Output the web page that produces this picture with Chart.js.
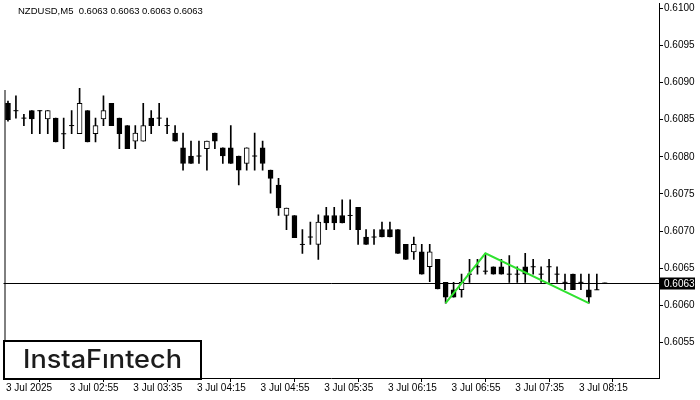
<!DOCTYPE html>
<html><head><meta charset="utf-8">
<script src="https://cdn.jsdelivr.net/npm/chart.js@4/dist/chart.umd.min.js"></script>
<style>html,body{margin:0;padding:0;background:#fff}#wrap{width:700px;height:400px;position:relative}</style>
</head><body><div id="wrap"><canvas id="c" width="700" height="400"></canvas></div>
<script>
const symbol = "NZDUSD";
const timeframe = "M5";
const opens  = [0.60872,0.60862,0.60852,0.60862,0.60862,0.60851,0.60852,0.60831,0.60842,0.60831,
                0.60862,0.60831,0.60851,0.60872,0.60852,0.60842,0.60821,0.60821,0.60852,0.60852,
                0.60842,0.60832,0.60812,0.60801,0.60801,0.60811,0.60832,0.60812,0.60812,0.60801,
                0.60791,0.60801,0.60812,0.60782,0.60762,0.60721,0.60721,0.60682,0.60692,0.60682,
                0.60721,0.60721,0.60721,0.60721,0.60732,0.60692,0.60692,0.60702,0.60702,0.60702,
                0.60682,0.60672,0.60672,0.60652,0.60662,0.60631,0.60621,0.60621,0.60642,0.60652,
                0.60646,0.60652,0.60652,0.60642,0.60642,0.60652,0.60652,0.60642,0.60652,0.60642,
                0.60631,0.60642,0.60631,0.60621,0.60621,0.60630];
const highs  = [0.60875,0.60882,0.60857,0.60862,0.60862,0.60862,0.60852,0.60852,0.60862,0.60892,
                0.60862,0.60852,0.60882,0.60872,0.60852,0.60842,0.60842,0.60872,0.60862,0.60872,
                0.60852,0.60842,0.60832,0.60821,0.60821,0.60821,0.60832,0.60812,0.60842,0.60801,
                0.60812,0.60832,0.60821,0.60782,0.60771,0.60731,0.60721,0.60702,0.60712,0.60722,
                0.60732,0.60732,0.60742,0.60742,0.60732,0.60702,0.60702,0.60712,0.60712,0.60702,
                0.60682,0.60692,0.60682,0.60682,0.60662,0.60631,0.60631,0.60642,0.60662,0.60662,
                0.60670,0.60652,0.60662,0.60667,0.60652,0.60670,0.60662,0.60652,0.60662,0.60652,
                0.60642,0.60642,0.60642,0.60642,0.60642,0.60630];
const lows   = [0.60848,0.60852,0.60842,0.60831,0.60831,0.60831,0.60820,0.60811,0.60831,0.60831,
                0.60820,0.60820,0.60842,0.60842,0.60811,0.60811,0.60811,0.60821,0.60831,0.60842,
                0.60831,0.60821,0.60782,0.60791,0.60791,0.60782,0.60811,0.60791,0.60791,0.60762,
                0.60782,0.60782,0.60782,0.60751,0.60721,0.60702,0.60691,0.60670,0.60682,0.60662,
                0.60702,0.60702,0.60711,0.60702,0.60682,0.60682,0.60682,0.60692,0.60692,0.60670,
                0.60662,0.60662,0.60642,0.60632,0.60622,0.60603,0.60611,0.60611,0.60631,0.60642,
                0.60642,0.60642,0.60642,0.60631,0.60631,0.60631,0.60642,0.60631,0.60631,0.60631,
                0.60621,0.60621,0.60621,0.60603,0.60621,0.60630];
const closes = [0.60850,0.60862,0.60852,0.60851,0.60862,0.60862,0.60820,0.60831,0.60842,0.60872,
                0.60820,0.60842,0.60862,0.60842,0.60831,0.60811,0.60832,0.60842,0.60842,0.60852,
                0.60842,0.60821,0.60791,0.60791,0.60801,0.60821,0.60821,0.60801,0.60791,0.60782,
                0.60812,0.60801,0.60791,0.60771,0.60731,0.60731,0.60691,0.60682,0.60692,0.60712,
                0.60711,0.60711,0.60711,0.60721,0.60702,0.60682,0.60692,0.60692,0.60692,0.60670,
                0.60662,0.60682,0.60642,0.60672,0.60622,0.60611,0.60611,0.60631,0.60642,0.60652,
                0.60646,0.60642,0.60642,0.60642,0.60642,0.60642,0.60652,0.60642,0.60652,0.60642,
                0.60631,0.60621,0.60631,0.60611,0.60621,0.60630];
const timeLabels = ["3 Jul 2025","3 Jul 02:55","3 Jul 03:35","3 Jul 04:15","3 Jul 04:55",
                    "3 Jul 05:35","3 Jul 06:15","3 Jul 06:55","3 Jul 07:35","3 Jul 08:15"];
const timeLabelIndex = [0,8,16,24,32,40,48,56,64,72];
const priceTicks = [0.6055,0.6060,0.6065,0.6070,0.6075,0.6080,0.6085,0.6090,0.6095,0.6100];
const patternIndex = [55,60,73];
const patternPrice = [0.60603,0.60670,0.60603];
const logoText = "InstaF\u0131ntech";

const idx = opens.map((_, i) => i);
const wickData = idx.map(i => ({x: i, y: [lows[i], highs[i]]}));
const bodyData = idx.map(i => opens[i] === closes[i] ? {x: i, y: null} :
  {x: i, y: [Math.min(opens[i], closes[i]), Math.max(opens[i], closes[i])]});
const dojiData = idx.filter(i => opens[i] === closes[i]).map(i => ({x: i, y: opens[i]}));
const patternData = patternIndex.map((v, k) => ({x: v, y: patternPrice[k]}));

const FONT = "'Liberation Sans', Arial, sans-serif";
Chart.defaults.font.family = FONT;
Chart.defaults.font.size = 10;
Chart.defaults.color = '#000';

const deco = {
  id: 'deco',
  beforeDatasetsDraw(chart) {
    const {ctx, chartArea: a, scales: {y}} = chart;
    const last = closes[closes.length - 1];
    const py = Math.floor(y.getPixelForValue(last)) + 0.5;
    ctx.save();
    ctx.strokeStyle = '#000'; ctx.lineWidth = 1;
    ctx.beginPath(); ctx.moveTo(a.left, py); ctx.lineTo(a.right, py); ctx.stroke();
    ctx.beginPath(); ctx.moveTo(a.left + 1.5, 90); ctx.lineTo(a.left + 1.5, a.bottom); ctx.stroke();
    ctx.restore();
  },
  afterDraw(chart) {
    const {ctx, chartArea: a, scales: {y}} = chart;
    const n = closes.length - 1;
    const last = closes[n];
    const py = Math.floor(y.getPixelForValue(last)) + 0.5;
    ctx.save();
    ctx.fillStyle = '#000';
    ctx.fillRect(a.right + 1, py - 6, 35, 12);
    ctx.fillStyle = '#fff';
    ctx.font = '10px ' + FONT;
    ctx.textBaseline = 'middle'; ctx.textAlign = 'left';
    ctx.fillText(last.toFixed(4), a.right + 5, py + 0.5);
    ctx.fillStyle = '#000';
    const t = symbol + ',' + timeframe + '  ' + [opens[n], highs[n], lows[n], closes[n]].map(v => v.toFixed(4)).join(' ');
    ctx.font = '9.5px ' + FONT;
    ctx.fillText(t, 18, 11);
    ctx.fillStyle = '#fff';
    ctx.fillRect(4, 341, 197, 38);
    ctx.strokeStyle = '#000'; ctx.lineWidth = 2;
    ctx.strokeRect(4, 341, 197, 38);
    ctx.fillStyle = '#1c1c1c';
    ctx.font = '500 25px Inter, sans-serif';
    ctx.textBaseline = 'alphabetic';
    const w = ctx.measureText(logoText).width;
    ctx.translate(23, 368);
    ctx.scale(159 / w, 1);
    ctx.fillText(logoText, 0, 0);
    ctx.restore();
  }
};

new Chart(document.getElementById('c'), {
  type: 'bar',
  data: {
    datasets: [
      {type: 'line', data: patternData, borderColor: '#2fe22f', borderWidth: 2, pointRadius: 0, tension: 0},
      {type: 'bar', data: bodyData, barThickness: 5, grouped: false, borderSkipped: false,
       backgroundColor: c => (closes[c.dataIndex] >= opens[c.dataIndex] ? '#fff' : '#000'),
       borderColor: '#000', borderWidth: 1},
      {type: 'line', data: dojiData, showLine: false, pointStyle: 'line', pointRadius: 2.5,
       pointBorderColor: '#000', pointBorderWidth: 1, pointHoverRadius: 2.5},
      {type: 'bar', data: wickData, barThickness: 1, grouped: false, borderSkipped: false,
       backgroundColor: '#000', borderWidth: 0}
    ]
  },
  options: {
    responsive: false, animation: false, devicePixelRatio: 1,
    layout: {padding: 0},
    plugins: {legend: {display: false}, tooltip: {enabled: false}},
    events: [],
    scales: {
      x: {
        type: 'linear', offset: false, min: -0.5625, max: 81.8125,
        grid: {drawOnChartArea: false, drawTicks: true, tickLength: 4, color: '#000'},
        border: {display: true, color: '#000', width: 1},
        afterBuildTicks: s => { s.ticks = timeLabelIndex.map(v => ({value: v})); },
        afterFit: s => { s.height = 22; s.paddingLeft = 0; s.paddingRight = 0; },
        ticks: {autoSkip: false, maxRotation: 0, align: 'start', padding: 0, labelOffset: -2,
                color: '#000', font: {size: 10},
                callback: v => timeLabels[timeLabelIndex.indexOf(v)]}
      },
      y: {
        position: 'right', min: 0.6050227, max: 0.6100627,
        grid: {drawOnChartArea: false, drawTicks: true, tickLength: 4, color: '#000'},
        border: {display: true, color: '#000', width: 1},
        afterBuildTicks: s => { s.ticks = priceTicks.map(v => ({value: v})); },
        afterFit: s => { s.width = 41; s.paddingTop = 0; s.paddingBottom = 0; },
        ticks: {padding: 1, color: '#000', font: {size: 10}, callback: v => v.toFixed(4)}
      }
    }
  },
  plugins: [deco]
});
</script></body></html>
